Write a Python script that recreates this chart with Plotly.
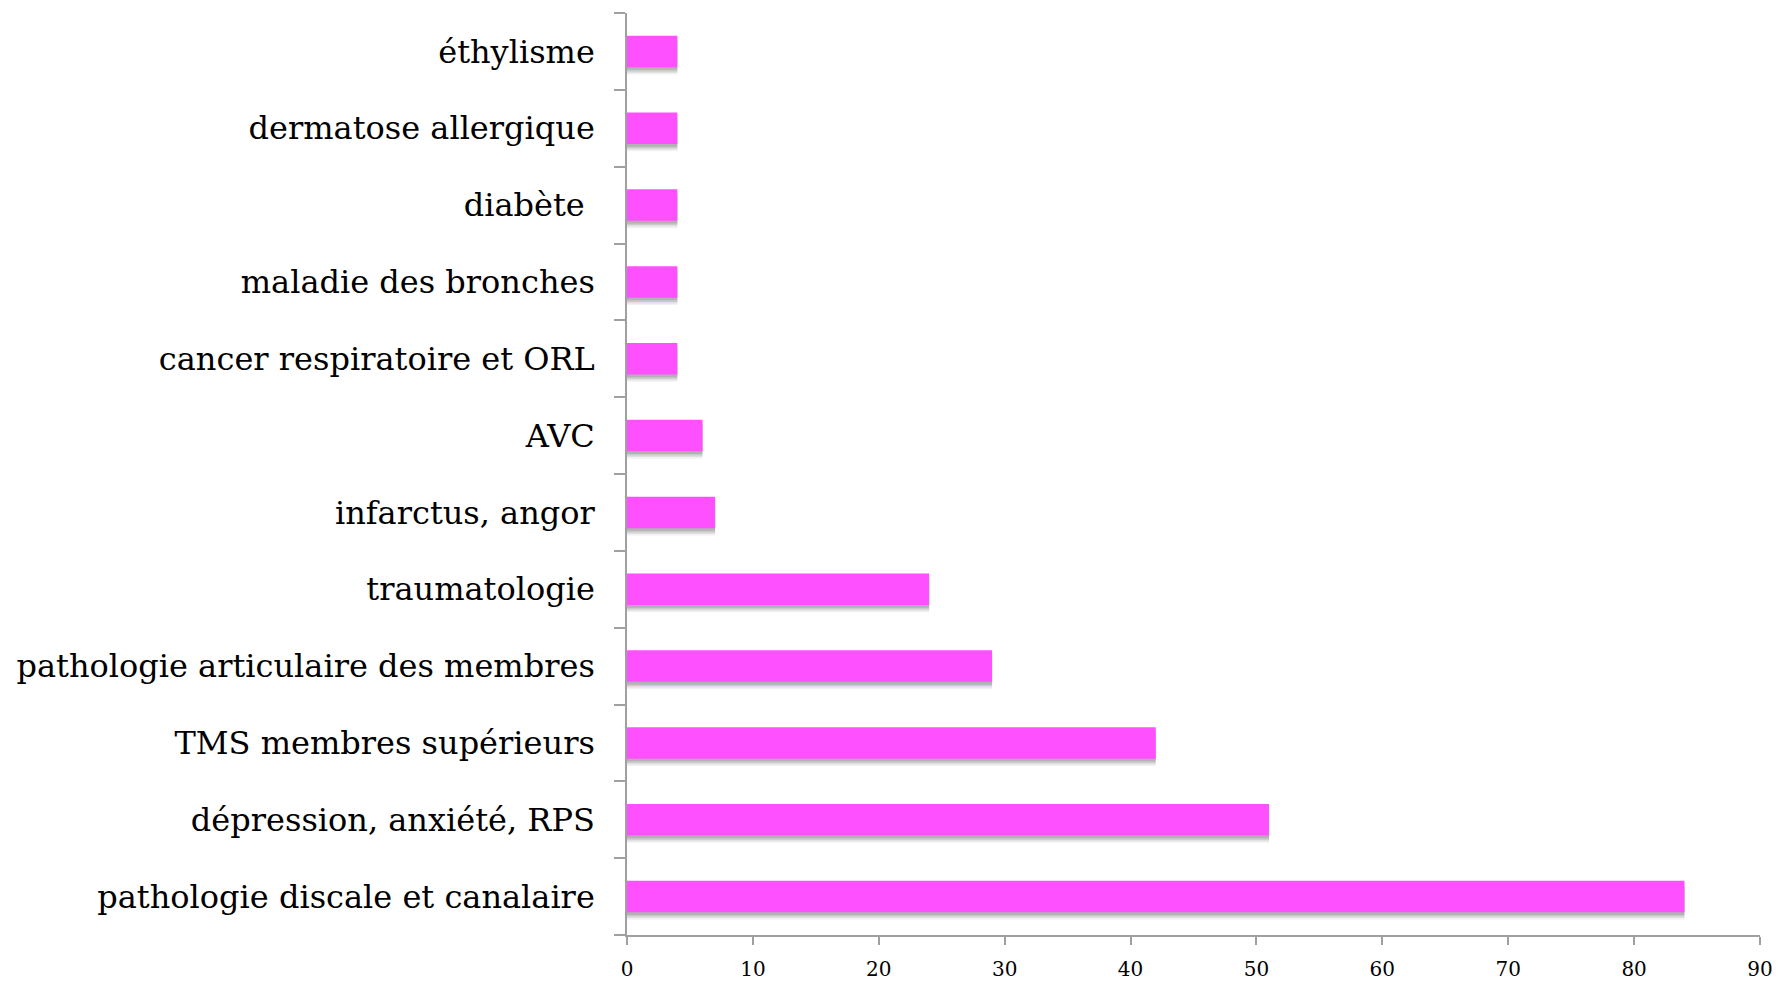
import plotly.graph_objects as go

categories = [
    "pathologie discale et canalaire",
    "dépression, anxiété, RPS",
    "TMS membres supérieurs",
    "pathologie articulaire des membres",
    "traumatologie",
    "infarctus, angor",
    "AVC",
    "cancer respiratoire et ORL",
    "maladie des bronches",
    "diabète ",
    "dermatose allergique",
    "éthylisme",
]
values = [84, 51, 42, 29, 24, 7, 6, 4, 4, 4, 4, 4]
x_ticks = [0, 10, 20, 30, 40, 50, 60, 70, 80, 90]

FONT = "DejaVu Serif"
BAR_W = 0.41

fig = go.Figure()
# soft drop shadow layers (drawn under the bars)
for shift, alpha in [(0.095, 0.07), (0.075, 0.10), (0.055, 0.14), (0.035, 0.18)]:
    fig.add_trace(go.Bar(
        y=categories, x=values, orientation="h",
        width=BAR_W, offset=-BAR_W / 2 - shift,
        marker=dict(color=f"rgba(70,70,70,{alpha})", line=dict(width=0)),
        hoverinfo="skip", showlegend=False,
    ))
fig.add_trace(go.Bar(
    y=categories, x=values, orientation="h",
    width=BAR_W, offset=-BAR_W / 2,
    marker=dict(color="#ff50ff", line=dict(width=0)),
    showlegend=False,
))

fig.update_layout(
    width=1780, height=984,
    barmode="overlay",
    plot_bgcolor="white", paper_bgcolor="white",
    margin=dict(l=627, r=20, t=13, b=49, autoexpand=False),
    font=dict(family=FONT, color="black"),
    xaxis=dict(
        range=[0, 90], tickvals=x_ticks, ticktext=[str(v) for v in x_ticks],
        showgrid=False, zeroline=False,
        showline=True, linecolor="#a0a0a0", linewidth=1.5,
        ticks="outside", ticklen=8, tickcolor="#a0a0a0", tickwidth=1.5,
        tickfont=dict(family=FONT, size=20, color="black"),
        ticklabelstandoff=7,
    ),
    yaxis=dict(
        type="category", categoryorder="array", categoryarray=categories,
        range=[-0.5, len(categories) - 0.5],
        tickson="boundaries",
        showgrid=False, zeroline=False,
        showline=True, linecolor="#a0a0a0", linewidth=1.5,
        ticks="outside", ticklen=11, tickcolor="#a0a0a0", tickwidth=1.5,
        tickfont=dict(family=FONT, size=32, color="black"),
        ticklabelstandoff=24,
    ),
)

fig.write_html(
    "out.html",
    config={"displayModeBar": False},
    post_script="document.body.style.margin='0';",
)
